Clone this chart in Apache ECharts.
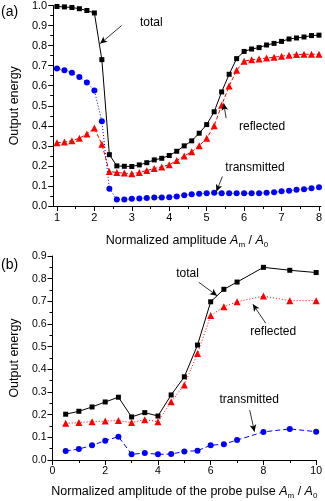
<!DOCTYPE html>
<html>
<head>
<meta charset="utf-8">
<script src="https://cdn.jsdelivr.net/npm/echarts@6/dist/echarts.min.js"></script>
<style>
  html, body { margin: 0; padding: 0; background: #fff; }
  #chart { width: 325px; height: 501px; }
</style>
</head>
<body>
<div id="chart"></div>
<script>
  // panel (a)
  var xA = [1.0, 1.2, 1.4, 1.6, 1.8, 2.0, 2.2, 2.4, 2.6, 2.8, 3.0, 3.2, 3.4, 3.6, 3.8, 4.0, 4.2, 4.4,
            4.6, 4.8, 5.0, 5.2, 5.4, 5.6, 5.8, 6.0, 6.2, 6.4, 6.6, 6.8, 7.0, 7.2, 7.4, 7.6, 7.8, 8.0];
  var totalA = [0.995, 0.993, 0.99, 0.984, 0.975, 0.963, 0.73, 0.256, 0.200, 0.198, 0.197, 0.205,
                0.216, 0.230, 0.238, 0.252, 0.273, 0.300, 0.325, 0.363, 0.406, 0.470, 0.569, 0.657,
                0.735, 0.771, 0.783, 0.790, 0.803, 0.811, 0.821, 0.833, 0.838, 0.843, 0.850, 0.852];
  var reflA = [0.316, 0.319, 0.326, 0.338, 0.359, 0.389, 0.308, 0.172, 0.167, 0.164, 0.161, 0.167,
               0.177, 0.187, 0.195, 0.206, 0.227, 0.250, 0.270, 0.300, 0.338, 0.400, 0.503, 0.598,
               0.677, 0.722, 0.730, 0.733, 0.738, 0.742, 0.747, 0.752, 0.755, 0.757, 0.757, 0.757];
  var transA = [0.686, 0.677, 0.664, 0.644, 0.616, 0.576, 0.423, 0.086, 0.033, 0.033, 0.036, 0.038,
                0.040, 0.042, 0.042, 0.044, 0.048, 0.053, 0.058, 0.061, 0.063, 0.066, 0.063, 0.063,
                0.063, 0.063, 0.063, 0.064, 0.066, 0.068, 0.073, 0.076, 0.081, 0.084, 0.089, 0.094];
  var ticksA = [1, 2, 3, 4, 5, 6, 7, 8];
  var minorTicksA = [1.5, 2.5, 3.5, 4.5, 5.5, 6.5, 7.5];

  // panel (b)
  var xB = [0.5, 1, 1.5, 2, 2.5, 3, 3.5, 4, 4.5, 5, 5.5, 6, 6.5, 7, 8, 9, 10];
  var totalB = [0.202, 0.215, 0.234, 0.256, 0.277, 0.190, 0.209, 0.194, 0.287, 0.367, 0.507, 0.698,
                0.753, 0.785, 0.850, 0.837, 0.827];
  var reflB = [0.162, 0.165, 0.169, 0.172, 0.174, 0.165, 0.178, 0.169, 0.257, 0.331, 0.470, 0.637,
               0.676, 0.698, 0.723, 0.703, 0.703];
  var transB = [0.040, 0.048, 0.065, 0.085, 0.103, 0.025, 0.031, 0.025, 0.026, 0.038, 0.041, 0.065,
                0.070, 0.088, 0.124, 0.137, 0.125];

  // annotations: [text x, text y, arrow from x, from y, arrow to x, to y]
  var notesA = {
    total: [3.52, 0.915, 2.73, 0.90, 2.155, 0.81],
    reflected: [6.48, 0.398, 5.52, 0.438, 5.455, 0.512],
    transmitted: [6.29, 0.192, 5.42, 0.147, 5.26, 0.0725]
  };
  var notesB = {
    total: [5.12, 0.82, 5.55, 0.784, 6.24, 0.725],
    reflected: [8.37, 0.566, 8.09, 0.603, 7.60, 0.687],
    transmitted: [7.46, 0.265, 7.48, 0.22, 7.66, 0.125]
  };

  var FONT = 'Liberation Sans';

  function pairs(xs, ys) {
    var out = [];
    for (var i = 0; i < xs.length; i++) out.push([xs[i], ys[i]]);
    return out;
  }

  function note(n, txt) {
    return {
      markLine: {
        silent: true,
        symbol: ['none', 'arrow'],
        symbolSize: [5, 7],
        label: {show: false},
        lineStyle: {color: '#000', width: 0.8, type: 'solid'},
        emphasis: {disabled: true},
        data: [[{coord: [n[2], n[3]]}, {coord: [n[4], n[5]]}]]
      },
      markPoint: {
        silent: true,
        symbol: 'rect',
        symbolSize: 1,
        itemStyle: {color: 'rgba(0,0,0,0)'},
        label: {show: true, position: 'inside', formatter: txt, color: '#000', fontSize: 12, fontFamily: FONT},
        data: [{coord: [n[0], n[1]]}]
      }
    };
  }

  function series(name, xi, yi, data, color, symbol, size, dash, n) {
    var s = {
      name: name,
      type: 'line',
      xAxisIndex: xi,
      yAxisIndex: yi,
      data: data,
      symbol: symbol,
      symbolSize: size,
      itemStyle: {color: color},
      lineStyle: {color: color, width: 1, type: dash},
      animation: false
    };
    var extra = note(n, name);
    s.markLine = extra.markLine;
    s.markPoint = extra.markPoint;
    return s;
  }

  var axisLine = {show: true, onZero: false, lineStyle: {color: '#000', width: 1}};
  var label = {color: '#000', fontSize: 11, fontFamily: FONT};
  var rich = {
    n: {fontSize: 12.5, fontFamily: FONT, color: '#000', lineHeight: 16},
    i: {fontSize: 12.5, fontFamily: FONT, color: '#000', fontStyle: 'italic', lineHeight: 16},
    s: {fontSize: 8, fontFamily: FONT, color: '#000', lineHeight: 16, verticalAlign: 'bottom'}
  };

  var option = {
    backgroundColor: '#fff',
    animation: false,
    grid: [
      {left: 46, right: 3, top: 5, bottom: 295},
      {left: 44, right: 6, top: 256, bottom: 41}
    ],
    xAxis: [
      {
        type: 'value', gridIndex: 0, min: 0.9, max: 8.05,
        axisLine: axisLine,
        axisTick: {show: true, inside: false, length: 5, customValues: ticksA, lineStyle: {color: '#000'}},
        axisLabel: Object.assign({margin: 6, customValues: ticksA}, label),
        splitLine: {show: false},
        name: '{n|Normalized amplitude }{i|A}{s|m}{n| / }{i|A}{s|0}',
        nameLocation: 'middle', nameGap: 27,
        nameTextStyle: {rich: rich}
      },
      {
        type: 'value', gridIndex: 0, min: 0.9, max: 8.05, position: 'bottom',
        axisLine: {show: false},
        axisTick: {show: true, inside: false, length: 3, customValues: minorTicksA, lineStyle: {color: '#000'}},
        axisLabel: {show: false},
        splitLine: {show: false}
      },
      {
        type: 'value', gridIndex: 1, min: 0, max: 10, interval: 2,
        axisLine: axisLine,
        axisTick: {show: true, length: 5, lineStyle: {color: '#000'}},
        minorTick: {show: true, splitNumber: 2, length: 3, lineStyle: {color: '#000'}},
        axisLabel: Object.assign({margin: 6}, label, {fontSize: 10.5}),
        splitLine: {show: false},
        name: '{n|Normalized amplitude of the probe pulse }{i|A}{s|m}{n| / }{i|A}{s|0}',
        nameLocation: 'middle', nameGap: 24,
        nameTextStyle: {rich: rich}
      }
    ],
    yAxis: [
      {
        type: 'value', gridIndex: 0, min: 0, max: 1.0, interval: 0.1,
        axisLine: axisLine,
        axisTick: {show: true, length: 5, lineStyle: {color: '#000'}},
        minorTick: {show: true, splitNumber: 2, length: 3, lineStyle: {color: '#000'}},
        axisLabel: Object.assign({margin: 6, formatter: function (v) { return v.toFixed(1); }}, label),
        splitLine: {show: false},
        name: 'Output energy', nameLocation: 'middle', nameGap: 29,
        nameTextStyle: {fontSize: 12.5, fontFamily: FONT, color: '#000'}
      },
      {
        type: 'value', gridIndex: 1, min: 0, max: 0.9, interval: 0.1,
        axisLine: axisLine,
        axisTick: {show: true, length: 5, lineStyle: {color: '#000'}},
        minorTick: {show: true, splitNumber: 2, length: 3, lineStyle: {color: '#000'}},
        axisLabel: Object.assign({margin: 6, formatter: function (v) { return v.toFixed(1); }}, label, {fontSize: 10.5}),
        splitLine: {show: false},
        name: 'Output energy', nameLocation: 'middle', nameGap: 27,
        nameTextStyle: {fontSize: 12.5, fontFamily: FONT, color: '#000'}
      }
    ],
    graphic: [
      {type: 'text', left: 1, top: 5, style: {text: '(a)', font: '14px "Liberation Sans"', fill: '#000'}},
      {type: 'text', left: 1, top: 258, style: {text: '(b)', font: '14px "Liberation Sans"', fill: '#000'}}
    ],
    series: [
      series('reflected', 0, 0, pairs(xA, reflA), '#ff0000', 'triangle', 7, [4, 2], notesA.reflected),
      series('transmitted', 0, 0, pairs(xA, transA), '#0000ff', 'circle', 6, [1, 2], notesA.transmitted),
      series('total', 0, 0, pairs(xA, totalA), '#000000', 'rect', 5, 'solid', notesA.total),
      series('reflected', 2, 1, pairs(xB, reflB), '#ff0000', 'triangle', 7, [1, 2], notesB.reflected),
      series('transmitted', 2, 1, pairs(xB, transB), '#0000ff', 'circle', 6, [5, 3], notesB.transmitted),
      series('total', 2, 1, pairs(xB, totalB), '#000000', 'rect', 5, 'solid', notesB.total)
    ]
  };

  var chart = echarts.init(document.getElementById('chart'), null, {renderer: 'canvas'});
  chart.setOption(option);
</script>
</body>
</html>
